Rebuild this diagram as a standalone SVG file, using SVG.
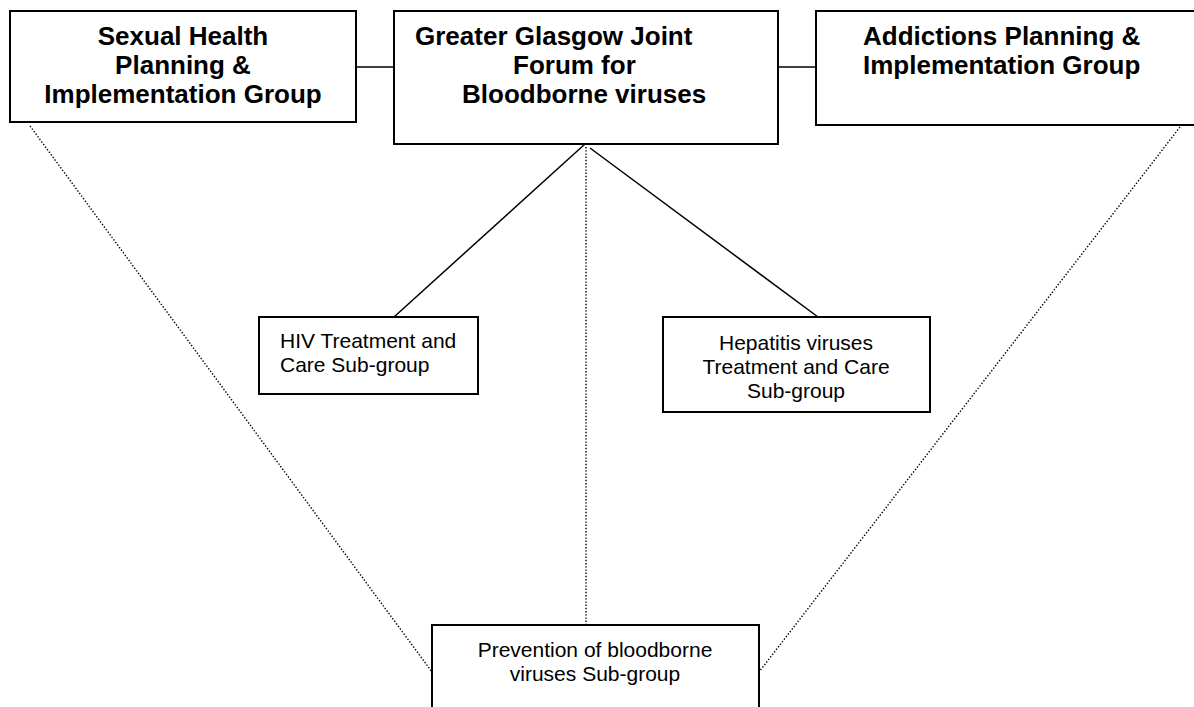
<svg xmlns="http://www.w3.org/2000/svg" width="1194" height="707" viewBox="0 0 1194 707">
<style>
.box{fill:#fff;stroke:#000;stroke-width:2}
.solid{stroke:#000;stroke-width:1.5;fill:none}
.dot{stroke:#000;stroke-width:1.4;stroke-dasharray:1.4 1.8;fill:none}
.t{font-family:"Liberation Sans",Arial,sans-serif;font-size:26px;font-weight:bold;fill:#000}
.s{font-family:"Liberation Sans",Arial,sans-serif;font-size:21px;fill:#000}
</style>
<rect width="1194" height="707" fill="#fff"/>
<g id="connectors">
<line class="solid" x1="356" y1="67" x2="394" y2="67"/>
<line class="solid" x1="778" y1="67" x2="816" y2="67"/>
<line class="solid" x1="585" y1="144" x2="394" y2="317"/>
<line class="solid" x1="590" y1="148" x2="818" y2="317"/>
<line class="dot" x1="586" y1="147" x2="586" y2="625"/>
<line class="dot" x1="30" y1="126" x2="432" y2="672"/>
<line class="dot" x1="1180" y1="127" x2="759" y2="672"/>
</g>
<g id="sexual-health">
<rect class="box" x="10" y="11" width="346" height="111"/>
<text class="t" text-anchor="middle" x="183" y="45">Sexual Health</text>
<text class="t" text-anchor="middle" x="183" y="74">Planning &amp;</text>
<text class="t" text-anchor="middle" x="183" y="103">Implementation Group</text>
</g>
<g id="joint-forum">
<rect class="box" x="394" y="11" width="384" height="133"/>
<text class="t" x="415" y="45">Greater Glasgow Joint</text>
<text class="t" x="513" y="74">Forum for</text>
<text class="t" x="462" y="103">Bloodborne viruses</text>
</g>
<g id="addictions">
<rect class="box" x="816" y="11" width="400" height="114"/>
<text class="t" x="863" y="45">Addictions Planning &amp;</text>
<text class="t" x="863" y="74">Implementation Group</text>
</g>
<g id="hiv">
<rect class="box" x="259" y="317" width="219" height="77"/>
<text class="s" x="280" y="348">HIV Treatment and</text>
<text class="s" x="280" y="372">Care Sub-group</text>
</g>
<g id="hepatitis">
<rect class="box" x="663" y="317" width="267" height="95"/>
<text class="s" text-anchor="middle" x="796" y="350">Hepatitis viruses</text>
<text class="s" text-anchor="middle" x="796" y="374">Treatment and Care</text>
<text class="s" text-anchor="middle" x="796" y="398">Sub-group</text>
</g>
<g id="prevention">
<rect class="box" x="432" y="625" width="327" height="100"/>
<text class="s" text-anchor="middle" x="595" y="657">Prevention of bloodborne</text>
<text class="s" text-anchor="middle" x="595" y="681">viruses Sub-group</text>
</g>
</svg>
